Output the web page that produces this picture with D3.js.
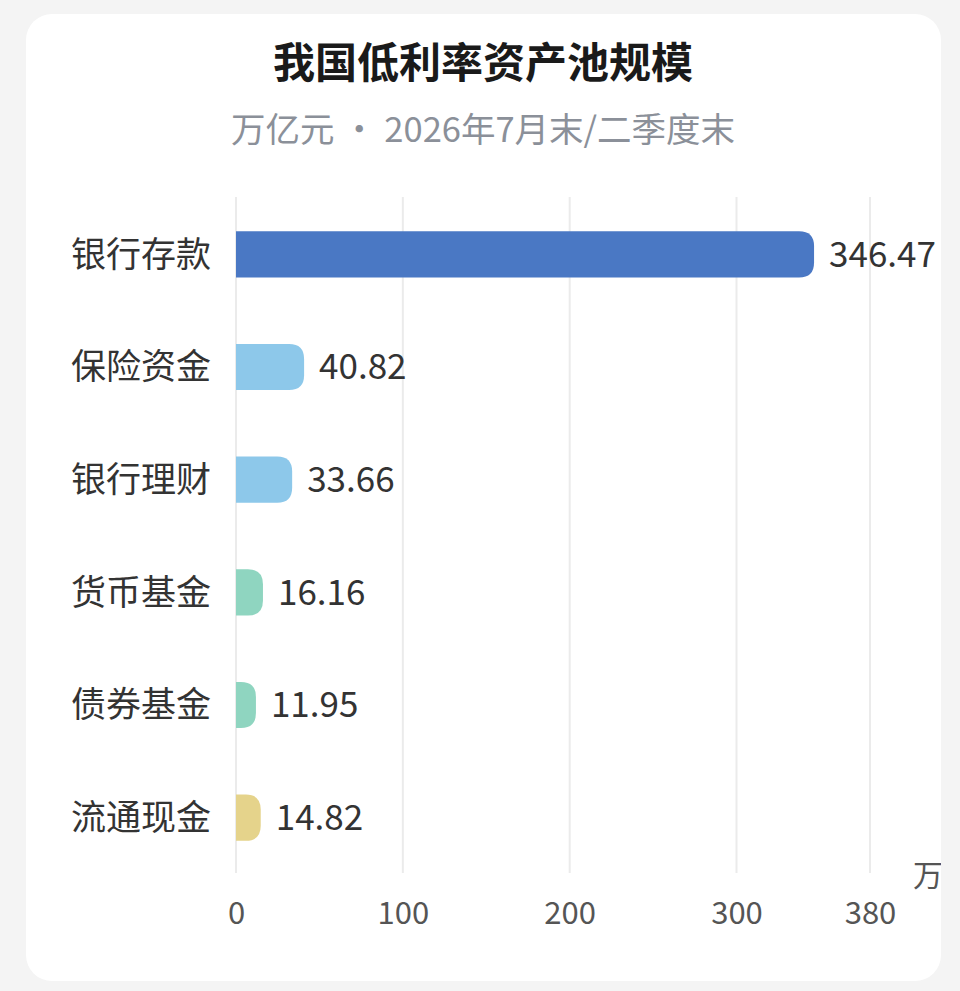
<!DOCTYPE html>
<html>
<head>
<meta charset="utf-8">
<script src="https://cdn.jsdelivr.net/npm/d3@7"></script>
<style>
  html, body { margin: 0; padding: 0; background: #f4f4f4; }
  svg { display: block; font-family: "Noto Sans CJK SC", "Noto Sans", sans-serif; }
</style>
</head>
<body>
<div id="chart"></div>
<script>
// data
const categories = ["银行存款", "保险资金", "银行理财", "货币基金", "债券基金", "流通现金"];
const values = [346.47, 40.82, 33.66, 16.16, 11.95, 14.82];
const barColors = ["#4a78c4", "#8dc8ea", "#8dc8ea", "#8fd5c0", "#8fd5c0", "#e5d38b"];
const tickValues = [0, 100, 200, 300, 380];

const W = 960, H = 991;

const svg = d3.select("#chart").append("svg")
  .attr("width", W)
  .attr("height", H);

// card
const card = { x: 26, y: 14, w: 915, h: 967, r: 26 };
svg.append("clipPath").attr("id", "cardClip")
  .append("rect")
  .attr("x", card.x).attr("y", card.y)
  .attr("width", card.w).attr("height", card.h)
  .attr("rx", card.r);

svg.append("rect")
  .attr("x", card.x).attr("y", card.y)
  .attr("width", card.w).attr("height", card.h)
  .attr("rx", card.r)
  .style("fill", "#fff");

const g = svg.append("g").attr("clip-path", "url(#cardClip)");

// title
g.append("text")
  .attr("x", 483).attr("y", 78)
  .attr("text-anchor", "middle")
  .style("font-size", "42px")
  .style("font-weight", "bold")
  .style("fill", "#1a1a1a")
  .text("我国低利率资产池规模");

g.append("text")
  .attr("x", 483).attr("y", 142)
  .attr("text-anchor", "middle")
  .style("font-size", "34.5px")
  .style("fill", "#8b9099")
  .text("万亿元 · 2026年7月末/二季度末");

// scales
const x = d3.scaleLinear().domain([0, 380]).range([236, 870]);
const y = d3.scaleBand()
  .domain(categories)
  .range([198, 874])
  .paddingInner(0.59)
  .paddingOuter(0.295);

// grid
g.selectAll(".grid")
  .data(tickValues)
  .enter().append("line")
  .attr("class", "grid")
  .attr("x1", d => x(d)).attr("x2", d => x(d))
  .attr("y1", 197).attr("y2", 873)
  .style("stroke", "#ebebeb")
  .style("stroke-width", 2);

// x axis
const xAxis = d3.axisBottom(x).tickValues(tickValues).tickSize(0).tickPadding(0);
const ax = g.append("g")
  .attr("transform", "translate(0,902)")
  .call(xAxis);
ax.select(".domain").remove();
ax.selectAll("text")
  .style("font-family", "\"Noto Sans CJK SC\", sans-serif")
  .style("font-size", "31px")
  .style("fill", "#555");

// unit label (clipped by card edge, as in the source)
g.append("text")
  .attr("x", 913).attr("y", 886)
  .style("font-size", "30px")
  .style("fill", "#555")
  .text("万亿元");

// bars with rounded right end
function barPath(d) {
  const x0 = x(0), x1 = x(d.v), y0 = y(d.c), h = y.bandwidth();
  const r = Math.min(15, (x1 - x0), h / 2);
  return `M${x0},${y0} H${x1 - r} Q${x1},${y0} ${x1},${y0 + r} V${y0 + h - r} Q${x1},${y0 + h} ${x1 - r},${y0 + h} H${x0} Z`;
}

const rows = categories.map((c, i) => ({ c: c, v: values[i], color: barColors[i] }));

g.selectAll(".bar")
  .data(rows)
  .enter().append("path")
  .attr("class", "bar")
  .attr("d", barPath)
  .style("fill", d => d.color);

// category labels
g.selectAll(".cat")
  .data(rows)
  .enter().append("text")
  .attr("class", "cat")
  .attr("x", 211)
  .attr("y", d => y(d.c) + y.bandwidth() / 2)
  .attr("dy", "0.35em")
  .attr("text-anchor", "end")
  .style("font-size", "35px")
  .style("fill", "#333")
  .text(d => d.c);

// value labels
g.selectAll(".val")
  .data(rows)
  .enter().append("text")
  .attr("class", "val")
  .attr("x", d => x(d.v) + 15)
  .attr("y", d => y(d.c) + y.bandwidth() / 2)
  .attr("dy", "0.35em")
  .style("font-size", "35px")
  .style("fill", "#333")
  .text(d => d.v.toFixed(2));
</script>
</body>
</html>
